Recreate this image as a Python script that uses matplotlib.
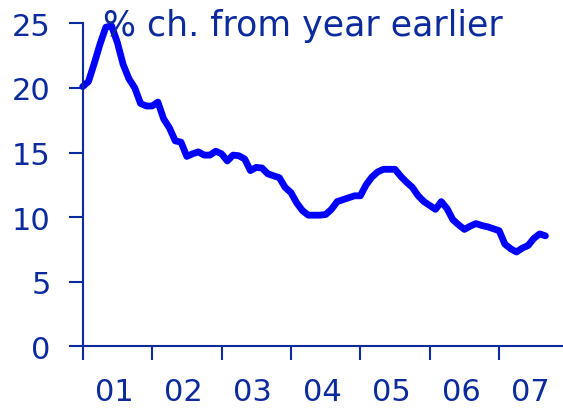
import matplotlib
matplotlib.use("Agg")
import matplotlib.pyplot as plt
import numpy as np

# Monthly data, Jan 2001 onward (% change from year earlier)
start_year = 2001
values = [20.1, 20.5, 21.9, 23.4, 24.7, 24.8, 23.5, 21.8, 20.7, 20.0, 18.8, 18.6,
          18.6, 18.9, 17.6, 16.9, 15.9, 15.8, 14.7, 14.9, 15.05, 14.8, 14.8, 15.1,
          14.9, 14.35, 14.8, 14.75, 14.5, 13.6, 13.85, 13.8, 13.35, 13.2, 13.05, 12.3,
          11.9, 11.1, 10.5, 10.15, 10.15, 10.15, 10.2, 10.6, 11.2, 11.35, 11.5, 11.65,
          11.65, 12.5, 13.1, 13.5, 13.7, 13.7, 13.7, 13.15, 12.7, 12.3, 11.65, 11.2,
          10.9, 10.6, 11.2, 10.65, 9.8, 9.4, 9.05, 9.3, 9.5, 9.35, 9.25, 9.1,
          8.95, 7.9, 7.55, 7.3, 7.6, 7.8, 8.35, 8.7, 8.55]
year_labels = ["01", "02", "03", "04", "05", "06", "07"]
y_ticks = [0, 5, 10, 15, 20, 25]
title = "% ch. from year earlier"

navy = "#0b2a9c"
line_color = "#0000ff"

dates = start_year + np.arange(len(values)) / 12.0

fig = plt.figure(figsize=(5.63, 4.10), dpi=100)
ax = fig.add_axes([0.1469, 0.1529, 1.0 - 0.1469, 0.7878])

ax.plot(dates, values, color=line_color, lw=4.9,
        solid_joinstyle="round", solid_capstyle="round", clip_on=False)

ax.set_xlim(2001, 2007.92)
ax.set_ylim(0, 25)

for s in ["top", "right"]:
    ax.spines[s].set_visible(False)
for s in ["left", "bottom"]:
    ax.spines[s].set_color(navy)
    ax.spines[s].set_linewidth(1.5)

ax.set_yticks(y_ticks)
ax.set_yticklabels([str(v) for v in y_ticks])
ax.tick_params(axis="y", which="major", direction="out", length=10, width=1.5,
               color=navy, labelcolor=navy, labelsize=22, pad=13)

years = np.arange(2001, 2001 + len(year_labels))
ax.set_xticks(years)
ax.set_xticklabels([""] * len(years))
ax.set_xticks(years + 0.45, minor=True)
ax.set_xticklabels(year_labels, minor=True)
ax.tick_params(axis="x", which="major", direction="out", length=10, width=1.5,
               color=navy)
ax.tick_params(axis="x", which="minor", length=0, labelcolor=navy,
               labelsize=22, pad=22)

fig.text(103 / 563, 1 - 36 / 410, title, color=navy, fontsize=25,
         ha="left", va="baseline")

fig.savefig("out.png", dpi=100)
